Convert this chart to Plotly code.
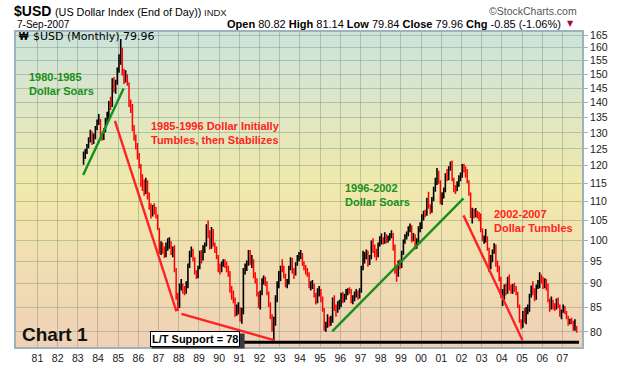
import numpy as np
import pandas as pd
import plotly.graph_objects as go

# ---------------- data ----------------
# Monthly $USD bars, Apr-1983 .. Sep-2007.  Open of each month = prior month's close.
first_open = 121.5

closes = [
    # 1983 Apr-Dec
    122.8, 124.0, 125.8, 127.8, 130.0, 127.2, 128.5, 131.2, 133.5,
    # 1984
    134.2, 128.4, 128.0, 130.8, 134.0, 135.0, 139.8, 138.8, 146.5, 145.0, 146.5, 151.0,
    # 1985
    154.0, 158.5, 150.5, 148.5, 149.5, 146.8, 139.5, 138.5, 131.8, 128.8, 126.5, 123.2,
    # 1986
    120.0, 115.0, 114.5, 112.5, 115.5, 112.0, 108.5, 106.5, 108.0, 107.8, 106.2, 103.0,
    # 1987
    97.5, 98.5, 97.2, 96.5, 98.5, 99.0, 99.3, 97.0, 97.5, 93.0, 87.5, 85.5,
    # 1988
    89.0, 89.3, 88.5, 88.0, 89.5, 93.8, 96.8, 97.5, 95.8, 92.5, 91.5, 93.5,
    # 1989
    96.8, 95.5, 98.2, 98.8, 103.5, 102.0, 98.5, 102.2, 99.0, 98.2, 96.2, 93.8,
    # 1990
    93.0, 94.2, 95.2, 94.8, 93.5, 92.5, 88.8, 87.5, 86.8, 83.8, 84.2, 84.5,
    # 1991
    82.8, 84.0, 92.5, 93.2, 94.5, 97.2, 95.0, 95.2, 91.8, 91.0, 87.8, 85.5,
    # 1992
    88.0, 90.5, 91.0, 90.2, 88.0, 85.5, 83.2, 80.5, 81.5, 86.5, 90.0, 91.5,
    # 1993
    93.5, 93.2, 92.0, 89.5, 90.2, 93.5, 95.5, 93.0, 92.0, 94.2, 95.8, 96.5,
    # 1994
    96.8, 94.5, 93.8, 92.8, 92.2, 89.5, 89.8, 89.8, 87.8, 86.2, 88.5, 88.5,
    # 1995
    86.8, 84.5, 81.0, 81.2, 82.8, 81.8, 82.2, 86.2, 85.0, 84.2, 85.5, 85.5,
    # 1996
    87.5, 86.5, 87.0, 88.2, 88.8, 88.5, 86.5, 86.8, 87.8, 88.0, 87.2, 88.5,
    # 1997
    93.5, 96.2, 96.5, 97.5, 95.0, 95.8, 99.5, 98.0, 97.5, 96.5, 99.0, 100.0,
    # 1998
    100.2, 99.5, 101.2, 99.8, 100.5, 101.0, 101.5, 98.8, 93.0, 91.8, 94.5, 94.2,
    # 1999
    97.0, 99.8, 100.8, 101.8, 102.8, 103.5, 100.2, 101.0, 99.0, 99.8, 103.0, 103.2,
    # 2000
    105.8, 106.8, 106.5, 110.5, 108.5, 107.5, 110.5, 113.5, 115.0, 118.0, 115.5, 110.0,
    # 2001
    111.8, 113.0, 117.2, 116.5, 119.2, 120.2, 116.2, 113.2, 112.8, 114.8, 116.8, 117.0,
    # 2002
    120.0, 119.5, 118.8, 115.5, 112.2, 106.2, 107.8, 106.8, 107.2, 106.8, 106.5, 102.5,
    # 2003
    100.2, 100.5, 100.5, 98.0, 94.0, 95.5, 97.5, 98.5, 94.5, 93.5, 91.2, 87.2,
    # 2004
    87.8, 88.8, 88.5, 91.0, 89.0, 88.8, 89.5, 89.2, 88.0, 85.2, 82.2, 81.0,
    # 2005
    83.8, 82.5, 84.5, 84.5, 87.5, 89.2, 88.5, 87.0, 89.5, 89.9, 91.5, 91.2,
    # 2006
    89.5, 90.5, 89.8, 86.5, 85.0, 85.5, 85.2, 85.0, 85.8, 85.2, 83.5, 84.0,
    # 2007 Jan-Sep
    85.0, 84.0, 83.0, 81.8, 82.2, 82.0, 80.5, 80.81, 79.96,
]

highs = [
    124.2, 125.0, 126.5, 128.6, 131.0, 130.5, 129.8, 132.2, 134.3,
    136.1, 134.5, 130.0, 131.5, 134.8, 136.9, 140.5, 142.0, 148.5, 149.0, 148.0, 152.5,
    157.5, 163.5, 160.0, 152.0, 151.5, 150.0, 147.0, 141.0, 139.5, 132.5, 129.5, 126.8,
    123.8, 120.5, 117.5, 116.0, 116.5, 115.8, 112.5, 109.5, 109.0, 109.5, 108.5, 106.5,
    103.0, 99.8, 99.5, 98.5, 99.5, 100.5, 100.8, 99.8, 98.5, 98.8, 93.5, 88.0,
    90.0, 91.0, 90.0, 89.5, 90.5, 94.5, 97.5, 98.5, 98.0, 96.0, 93.0, 94.0,
    97.5, 97.7, 98.8, 99.5, 104.0, 105.0, 102.5, 103.3, 102.8, 99.5, 98.5, 96.5,
    94.5, 95.0, 95.5, 95.5, 95.0, 94.0, 92.8, 89.5, 88.5, 87.0, 85.5, 86.0,
    85.0, 84.8, 93.5, 94.5, 95.2, 97.7, 97.7, 96.5, 95.5, 92.5, 91.2, 88.2,
    88.5, 91.2, 91.8, 91.5, 90.5, 88.3, 86.0, 83.5, 83.0, 87.5, 90.5, 92.8,
    94.0, 95.5, 94.0, 92.2, 91.0, 94.0, 96.0, 95.8, 93.5, 94.8, 96.5, 97.2,
    97.7, 97.0, 95.0, 94.2, 93.5, 92.5, 90.5, 90.8, 90.0, 88.0, 89.0, 89.5,
    88.8, 87.2, 84.8, 82.0, 83.5, 83.0, 83.2, 87.0, 87.5, 85.5, 86.2, 86.5,
    88.0, 88.2, 87.8, 88.8, 89.0, 89.2, 88.8, 87.5, 88.3, 88.8, 88.5, 89.0,
    94.0, 97.5, 97.2, 97.8, 97.5, 96.5, 100.0, 100.5, 99.0, 98.0, 99.5, 101.0,
    101.7, 100.8, 102.0, 101.5, 101.2, 101.8, 102.5, 101.8, 99.0, 94.0, 95.2, 95.5,
    97.5, 100.2, 101.5, 102.2, 103.5, 104.2, 103.8, 101.8, 101.5, 100.5, 103.5, 104.5,
    106.6, 107.5, 107.8, 111.0, 112.6, 109.2, 111.2, 114.0, 116.5, 119.3, 118.5, 115.8,
    112.5, 113.8, 117.8, 119.0, 119.8, 121.2, 121.5, 116.5, 114.5, 115.5, 117.2, 118.0,
    120.5, 120.6, 119.8, 119.0, 115.8, 112.4, 108.3, 108.0, 108.2, 107.5, 107.2, 106.8,
    103.0, 101.2, 102.8, 101.0, 98.2, 96.5, 97.8, 99.3, 99.0, 95.2, 94.0, 91.5,
    88.8, 89.8, 90.0, 91.5, 92.0, 89.8, 89.9, 90.2, 89.5, 88.2, 85.5, 82.5,
    84.2, 84.8, 85.0, 85.5, 87.8, 89.6, 90.5, 89.0, 89.8, 90.8, 92.5, 92.0,
    91.5, 91.2, 91.0, 90.0, 86.8, 87.2, 86.5, 85.8, 86.8, 87.0, 85.5, 84.5,
    85.5, 85.2, 84.2, 83.2, 82.6, 82.8, 82.2, 82.5, 81.14,
]

lows = [
    120.3, 122.0, 123.5, 125.2, 127.0, 126.2, 126.5, 128.0, 130.8,
    132.5, 127.8, 127.5, 127.8, 130.2, 133.0, 134.5, 137.5, 138.5, 143.5, 143.0, 146.2,
    150.5, 153.5, 149.5, 146.5, 147.0, 145.8, 138.5, 136.5, 130.5, 127.5, 124.8, 121.8,
    119.2, 114.0, 112.8, 111.5, 112.0, 110.5, 107.8, 105.5, 106.0, 106.5, 105.5, 102.5,
    96.8, 96.5, 96.8, 95.8, 96.0, 97.5, 98.0, 96.5, 96.0, 92.5, 86.5, 84.2,
    84.8, 88.5, 87.8, 87.5, 87.8, 89.0, 93.5, 96.0, 95.0, 92.0, 91.0, 91.2,
    93.2, 94.5, 95.2, 97.0, 98.5, 100.5, 97.8, 98.0, 98.5, 97.0, 95.5, 92.5,
    92.0, 92.5, 93.8, 93.5, 92.5, 91.5, 88.0, 86.5, 85.8, 83.0, 83.2, 83.5,
    82.0, 81.6, 83.5, 92.0, 92.8, 94.0, 94.2, 93.5, 91.2, 90.0, 87.2, 84.8,
    84.5, 87.5, 89.8, 89.5, 87.5, 85.0, 82.5, 80.0, 78.3, 81.2, 86.0, 89.0,
    90.5, 92.5, 91.2, 89.2, 89.0, 89.8, 93.0, 92.2, 91.0, 91.8, 94.0, 95.0,
    95.5, 94.0, 93.0, 92.0, 91.5, 89.0, 88.5, 88.8, 87.0, 85.5, 85.8, 87.2,
    86.0, 84.0, 80.2, 80.0, 80.8, 81.0, 81.2, 81.8, 84.2, 83.0, 83.8, 84.5,
    85.0, 85.8, 86.0, 86.5, 87.5, 87.8, 85.8, 85.6, 86.2, 87.0, 86.5, 86.8,
    88.0, 93.0, 94.5, 95.5, 93.8, 94.2, 95.5, 97.0, 96.0, 95.2, 96.0, 98.5,
    99.0, 99.0, 99.2, 99.3, 99.5, 100.0, 100.5, 97.5, 92.2, 90.4, 91.5, 93.2,
    93.5, 96.5, 99.2, 100.2, 101.0, 102.0, 99.5, 99.8, 97.8, 98.0, 99.5, 102.0,
    102.8, 105.0, 105.8, 106.2, 108.0, 106.6, 107.0, 110.0, 112.6, 114.5, 114.8, 109.2,
    109.0, 110.8, 112.5, 115.5, 115.8, 118.5, 115.5, 112.5, 112.0, 112.8, 114.0, 115.5,
    116.5, 118.0, 116.5, 115.0, 111.5, 105.6, 104.2, 105.5, 105.8, 105.5, 104.8, 102.0,
    99.8, 99.2, 99.5, 97.5, 92.6, 93.2, 94.8, 96.8, 93.8, 92.5, 90.5, 86.9,
    85.2, 86.5, 87.5, 87.8, 88.5, 87.8, 87.8, 88.2, 87.5, 84.8, 81.8, 80.5,
    80.8, 81.8, 81.5, 83.5, 84.0, 87.0, 87.5, 86.2, 86.5, 88.8, 89.0, 90.0,
    88.8, 89.0, 88.5, 86.0, 84.0, 84.5, 84.5, 84.2, 84.5, 84.8, 83.0, 82.5,
    83.8, 83.5, 82.5, 81.2, 81.5, 81.5, 80.2, 80.2, 79.84,
]

assert len(closes) == len(highs) == len(lows)

# Axis tick labels
year_ticks = list(range(1981, 2008))
year_labels = ["81", "82", "83", "84", "85", "86", "87", "88", "89", "90", "91", "92", "93",
               "94", "95", "96", "97", "98", "99", "00", "01", "02", "03", "04", "05", "06", "07"]
price_ticks = [80, 85, 90, 95, 100, 105, 110, 115, 120, 125, 130, 135, 140, 145, 150, 155, 160, 165]

# Hand-drawn trend lines (date, value) and support level
green_1 = [("1983-04-08", 117.3), ("1985-04-08", 144.9)]
red_1 = [("1984-11-02", 133.9), ("1987-11-20", 84.1)]
red_2 = [("1988-02-17", 83.6), ("1992-09-20", 78.4)]
green_2 = [("1995-08-08", 80.1), ("2002-02-06", 110.8)]
red_3 = [("2002-02-06", 106.3), ("2005-01-08", 78.4)]
support_level = 78
support_span = ["1987-06-01", "2007-10-28"]

# ---------------- figure ----------------
dates = pd.date_range("1983-04-01", periods=len(closes), freq="MS") + pd.Timedelta(days=14)
opens = [first_open] + closes[:-1]

W, H = 620, 376
ML, MR, MT, MB = 16, 37, 32, 17
PW, PH = W - ML - MR, H - MT - MB


def px(X):
    return (X - ML) / PW


def py(Y):
    return (H - MB - Y) / PH


fig = go.Figure()
fig.add_trace(go.Ohlc(
    x=dates, open=opens, high=highs, low=lows, close=closes,
    increasing=dict(line=dict(color="#000000", width=1.6)),
    decreasing=dict(line=dict(color="#ff0000", width=1.5)),
    tickwidth=0.3, hoverinfo="skip", showlegend=False,
))


def add_line(pts, color, width):
    fig.add_trace(go.Scatter(
        x=[p[0] for p in pts], y=[p[1] for p in pts], mode="lines",
        line=dict(color=color, width=width), hoverinfo="skip", showlegend=False))


GREEN = "#15901a"
RED = "#ff2222"
add_line(green_1, GREEN, 2.4)
add_line(red_1, RED, 2.4)
add_line(red_2, RED, 2.4)
add_line(green_2, GREEN, 2.4)
add_line(red_3, RED, 2.4)
fig.add_trace(go.Scatter(x=support_span, y=[support_level, support_level], mode="lines",
                         line=dict(color="#000000", width=3), hoverinfo="skip", showlegend=False))

# background gradient (teal -> yellow -> peach)
stops = [(0.0, (204, 228, 221)), (0.5, (241, 233, 171)), (1.0, (240, 209, 183))]


def grad(f):
    for (f0, c0), (f1, c1) in zip(stops[:-1], stops[1:]):
        if f <= f1:
            t = (f - f0) / (f1 - f0)
            return "rgb(%d,%d,%d)" % tuple(round(a + (b - a) * t) for a, b in zip(c0, c1))
    return "rgb(%d,%d,%d)" % stops[-1][1]


shapes = []
nb = 64
for i in range(nb):
    shapes.append(dict(type="rect", xref="paper", yref="paper", x0=0, x1=1,
                       y0=1 - (i + 1) / nb, y1=min(1, 1 - i / nb + 0.004),
                       fillcolor=grad((i + 0.5) / nb), line=dict(width=0), layer="below"))
# shadow of the support label box
shapes.append(dict(type="rect", xref="paper", yref="paper",
                   x0=px(152), x1=px(245), y0=py(360.5), y1=py(345),
                   fillcolor="#3a3a3a", line=dict(width=0), layer="above"))

SANS = "Liberation Sans, Arial, sans-serif"
ann = []


def text(t, X, Y, size, color="#000000", anchor="left", family=SANS, **kw):
    ann.append(dict(text=t, x=px(X), y=py(Y), xref="paper", yref="paper",
                    xanchor=anchor, yanchor="middle", showarrow=False,
                    font=dict(size=size, color=color, family=family), **kw))


# header
text("<b>$USD</b>", 12, 10.5, 14)
text("(US Dollar Index (End of Day))", 53, 11, 10.8)
text("INDX", 202, 11.5, 9.5, color="#222222")
text("7-Sep-2007", 14.5, 24, 10)
text("<b>Open</b> 80.82 <b>High</b> 81.14 <b>Low</b> 79.84 <b>Close</b> 79.96 <b>Chg</b> -0.85 (-1.06%)",
     563.5, 24, 11, anchor="right")
text("▼", 565.5, 23.5, 8, color="#a01035", family="DejaVu Sans, sans-serif")
text("©StockCharts.com", 580, 10.5, 10.5, color="#555555", anchor="right")

# inside plot
text("<b>₩</b>", 17, 36.5, 10)
text("$USD (Monthly) 79.96", 31, 36.5, 11, family="DejaVu Sans, sans-serif")

# commentary
text("<b>1980-1985</b>", 27.5, 79, 11, color=GREEN)
text("<b>Dollar Soars</b>", 27.5, 93.5, 11, color=GREEN)
text("<b>1985-1996 Dollar Initially</b>", 149.5, 130, 11, color=RED)
text("<b>Tumbles, then Stabilizes</b>", 149.5, 144.5, 11, color=RED)
text("<b>1996-2002</b>", 343.5, 194, 11, color=GREEN)
text("<b>Dollar Soars</b>", 343.5, 208.5, 11, color=GREEN)
text("<b>2002-2007</b>", 492.5, 221, 11, color=RED)
text("<b>Dollar Tumbles</b>", 492.5, 235.5, 11, color=RED)
text("<b>Chart 1</b>", 20, 346, 19, color="#111111")
text("<b>L/T Support = 78</b>", 150, 350.5, 11, bgcolor="#ffffff", bordercolor="#000000",
     borderwidth=1, borderpad=1)

GRID = "rgba(105,125,115,0.36)"
BORDER = "#9db3bb"

fig.update_layout(
    width=W, height=H, autosize=False,
    margin=dict(l=ML, r=MR, t=MT, b=MB, pad=0),
    paper_bgcolor="#ffffff", plot_bgcolor="#eee6b2",
    shapes=shapes, annotations=ann, showlegend=False, hovermode=False,
    xaxis=dict(
        type="date", range=["1979-12-10", "2007-12-21"],
        tickvals=["%d-01-01" % y for y in year_ticks], ticktext=year_labels,
        showgrid=True, gridcolor=GRID, gridwidth=1,
        showline=True, mirror=True, linecolor=BORDER, linewidth=2,
        ticks="", tickfont=dict(size=10.5, color="#1a1a1a", family=SANS),
        rangeslider=dict(visible=False), zeroline=False, fixedrange=True,
    ),
    yaxis=dict(
        type="log", side="right", range=[np.log10(77.1), np.log10(166.28)],
        tickvals=price_ticks, ticktext=[str(v) for v in price_ticks],
        showgrid=True, gridcolor=GRID, gridwidth=1,
        showline=True, mirror=True, linecolor=BORDER, linewidth=2,
        ticks="outside", ticklen=4, tickcolor=BORDER, tickwidth=1,
        tickfont=dict(size=10.5, color="#1a1a1a", family=SANS),
        zeroline=False, fixedrange=True,
    ),
)

# remove the default 8px page margin so the figure sits at the window origin
fig.write_html("out.html", config={"displayModeBar": False, "staticPlot": True},
               post_script="document.body.style.margin='0px';")
